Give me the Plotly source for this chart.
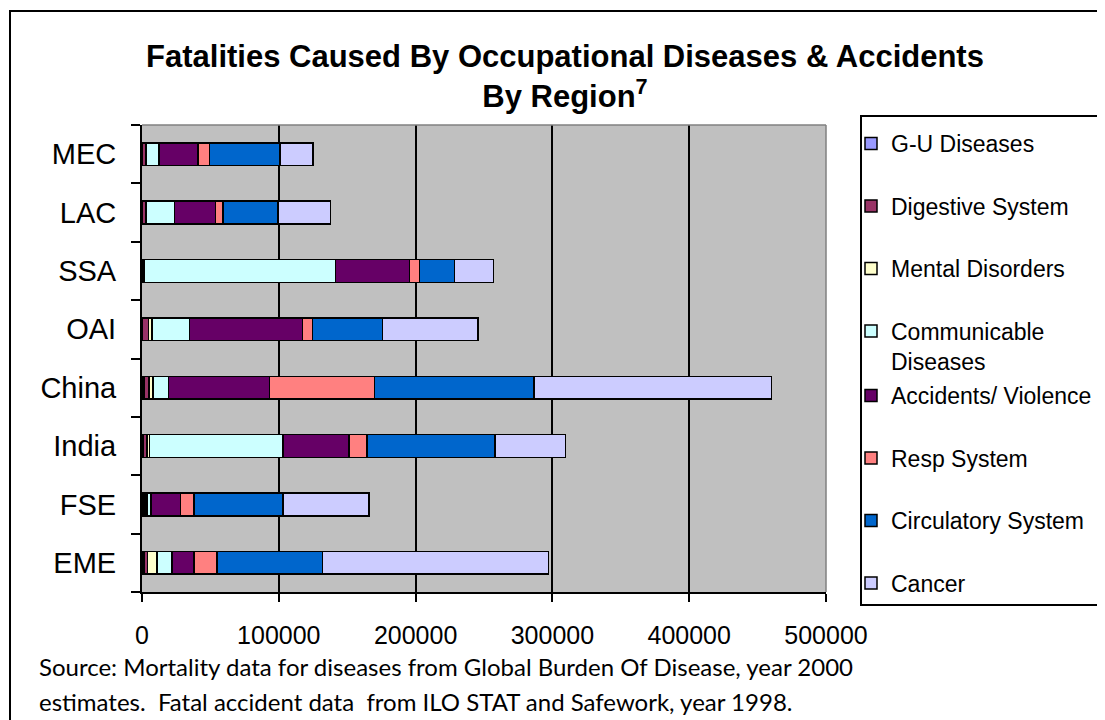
import plotly.graph_objects as go

# regions, bottom to top as drawn
regions = ["EME", "FSE", "India", "China", "OAI", "SSA", "LAC", "MEC"]

# deaths per cause, same order as regions
gu_diseases     = [1500, 1500, 800, 1500, 500, 800, 500, 500]
digestive       = [2500, 1500, 3000, 3600, 4400, 800, 2200, 2200]
mental          = [7000, 500, 1500, 2900, 2400, 400, 300, 300]
communicable    = [11000, 3000, 97800, 11500, 27600, 139400, 20900, 9400]
accidents       = [16000, 21700, 48200, 73800, 82300, 54300, 29700, 28600]
resp_system     = [17000, 9900, 13200, 76800, 7300, 7300, 5600, 8500]
circulatory     = [77000, 65000, 93700, 116400, 51200, 25600, 40200, 51200]
cancer          = [165000, 63000, 51300, 173500, 69900, 28500, 38300, 24300]

x_ticks = [0, 100000, 200000, 300000, 400000, 500000]

FONT = "Liberation Sans, Arial, sans-serif"

# plot area in page pixels; the page body adds an 8px offset
PAGE_OFF = 8
W, H = 1105 - PAGE_OFF, 720 - PAGE_OFF
L, R, T, B = 142, 826, 125, 592
PW, PH = R - L, B - T


def px(x):
    return (x - L) / PW


def py(y):
    return (B - y) / PH


# (name, values, colour, legend)
series = [
    ("G-U Diseases",                gu_diseases,  "#9999FF", "legend"),
    ("Digestive System",            digestive,    "#993366", "legend"),
    ("Mental Disorders",            mental,       "#FFFFCC", "legend"),
    ("Communicable<br>Diseases",    communicable, "#CCFFFF", "legend"),
    ("Accidents/ Violence",         accidents,    "#660066", "legend2"),
    ("Resp System",                 resp_system,  "#FF8080", "legend2"),
    ("Circulatory System",          circulatory,  "#0066CC", "legend2"),
    ("Cancer",                      cancer,       "#CCCCFF", "legend2"),
]

fig = go.Figure()
for name, vals, color, leg in series:
    fig.add_trace(go.Bar(
        y=regions, x=vals, name=name, orientation="h",
        marker=dict(color=color, line=dict(color="black", width=1.5)),
        legend=leg, legendgroup=name,
    ))

legend_style = dict(
    xref="paper", yref="paper", x=px(851),
    xanchor="left", yanchor="top",
    bgcolor="rgba(0,0,0,0)", borderwidth=0,
    font=dict(family=FONT, size=23, color="black"),
    tracegroupgap=29.6, traceorder="grouped", valign="top",
)

fig.update_layout(
    width=W, height=H,
    margin=dict(l=L - PAGE_OFF, r=W - (R - PAGE_OFF), t=T - PAGE_OFF,
                b=H - (B - PAGE_OFF), autoexpand=False),
    paper_bgcolor="white", plot_bgcolor="#C0C0C0",
    barmode="stack", bargap=0.61,
    title=dict(
        text="Fatalities Caused By Occupational Diseases & Accidents<br>By Region<sup>7</sup>",
        font=dict(family=FONT, size=31, color="black", weight="bold"),
        x=(565 - PAGE_OFF) / W, xanchor="center", xref="container",
        y=1 - 59 / H, yanchor="top", yref="container",
    ),
    legend=dict(legend_style, y=py(122)),
    legend2=dict(legend_style, y=py(374)),
)

fig.update_xaxes(
    range=[0, 500000], tickvals=x_ticks, tickformat="d",
    showgrid=True, gridcolor="black", gridwidth=2, zeroline=False,
    showline=True, linecolor="black", linewidth=2,
    ticks="outside", ticklen=8, tickwidth=2, tickcolor="black",
    ticklabelstandoff=12,
    tickfont=dict(family=FONT, size=25, color="black"),
)
fig.update_yaxes(
    type="category", categoryorder="array", categoryarray=regions,
    showgrid=False, zeroline=False,
    showline=True, linecolor="black", linewidth=2,
    ticks="outside", tickson="boundaries", ticklen=9, tickwidth=2, tickcolor="black",
    ticklabelstandoff=18,
    tickfont=dict(family=FONT, size=29, color="black"),
)

# plot area top/right border (grey), legend box, outer chart frame
fig.add_shape(type="line", xref="paper", yref="paper", x0=0, x1=1, y0=1, y1=1,
              line=dict(color="#808080", width=1.5))
fig.add_shape(type="line", xref="paper", yref="paper", x0=1, x1=1, y0=0, y1=1,
              line=dict(color="#808080", width=1.5))
fig.add_shape(type="rect", xref="paper", yref="paper",
              x0=px(861), x1=px(1103), y0=py(605), y1=py(116),
              line=dict(color="black", width=2))
fig.add_shape(type="rect", xref="paper", yref="paper",
              x0=px(10), x1=px(1200), y0=py(800), y1=py(11),
              line=dict(color="black", width=2))

source_lines = [
    "Source: Mortality data for diseases from Global Burden Of Disease, year 2000",
    "estimates.  Fatal accident data  from ILO STAT and Safework, year 1998.",
]
for i, line in enumerate(source_lines):
    fig.add_annotation(
        text=line, showarrow=False, xref="paper", yref="paper",
        x=px(37), y=py(666 + 35 * i),
        xanchor="left", yanchor="middle",
        font=dict(family="Lato, Carlito, sans-serif", size=24, color="black"),
    )

fig.write_html("out.html")
